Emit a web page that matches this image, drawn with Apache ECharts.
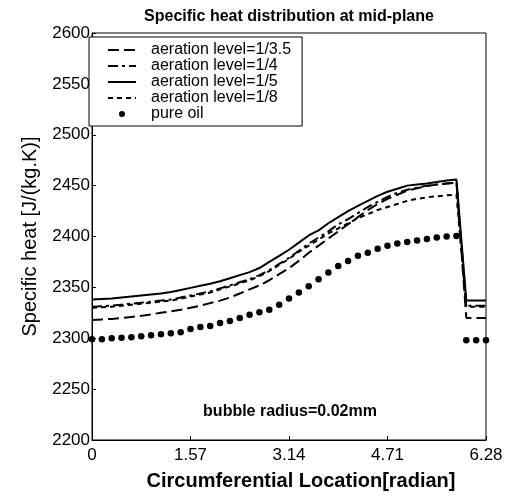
<!DOCTYPE html>
<html>
<head>
<meta charset="utf-8">
<script src="https://cdn.jsdelivr.net/npm/echarts@6/dist/echarts.min.js"></script>
<style>html,body{margin:0;padding:0;background:#fff}#c{width:510px;height:496px}</style>
</head>
<body>
<div id="c"></div>
<script>
// circumferential location [radian]
const xs = [0, 0.157, 0.314, 0.471, 0.628, 0.785, 0.942, 1.100, 1.257, 1.414,
  1.571, 1.728, 1.885, 2.042, 2.199, 2.356, 2.513, 2.670, 2.827, 2.985,
  3.142, 3.299, 3.456, 3.613, 3.770, 3.927, 4.084, 4.241, 4.398, 4.555,
  4.712, 4.869, 5.027, 5.184, 5.341, 5.498, 5.655, 5.812, 5.969, 6.126, 6.283];

const aer35 = [2318, 2318.5, 2319, 2320, 2321, 2322, 2323.5, 2325, 2326.5, 2328,
  2330, 2332, 2334.5, 2337, 2340, 2344, 2348, 2352, 2357, 2363,
  2369, 2376, 2384, 2391, 2398, 2405, 2412, 2419, 2426, 2432,
  2437, 2441, 2445, 2447.5, 2449.5, 2451, 2452, 2453, 2320, 2320, 2320];

const aer4 = [2331, 2331.5, 2332, 2333, 2334, 2335, 2336, 2337, 2338, 2340,
  2342, 2344, 2346, 2349, 2352, 2355, 2358, 2362, 2367, 2373,
  2379, 2386, 2393, 2399, 2405, 2412, 2417, 2423, 2429, 2434,
  2439, 2443, 2446, 2448, 2450, 2451, 2452, 2453, 2332, 2332, 2332];

const aer5 = [2338, 2338.5, 2339, 2340, 2341, 2342, 2343, 2344, 2345.5, 2347.5,
  2349.5, 2351.5, 2353.5, 2356, 2359, 2362, 2365, 2369, 2375, 2381,
  2387, 2394, 2401, 2406, 2413, 2419, 2425, 2430, 2435, 2440,
  2444, 2447, 2450, 2451, 2452, 2453.5, 2455, 2456, 2337, 2337, 2337];

const aer8 = [2330, 2330.5, 2331, 2332, 2333, 2334, 2335, 2336, 2337, 2339,
  2341, 2343, 2345, 2348, 2351, 2354, 2357, 2361, 2366, 2372,
  2378, 2385, 2391, 2397, 2403, 2408, 2413, 2418, 2422, 2426,
  2429, 2432, 2435, 2437, 2438.5, 2439.5, 2440.5, 2441, 2331, 2331, 2331];

const pureOil = [2299, 2299, 2300, 2300.5, 2301, 2302, 2303, 2304, 2305, 2306,
  2309, 2311, 2312, 2315, 2317, 2320, 2323, 2325.5, 2328, 2333,
  2339, 2345, 2351, 2358, 2364.5, 2371, 2376, 2381, 2384, 2388,
  2391, 2393, 2394.5, 2396, 2397.5, 2399, 2400, 2400.5, 2298, 2298, 2298];

const xTicks = [0, 1.57, 3.14, 4.71, 6.28];
const seriesNames = ['aeration level=1/3.5', 'aeration level=1/4', 'aeration level=1/5', 'aeration level=1/8', 'pure oil'];

const pair = (ys) => xs.map((x, i) => [x, ys[i]]);
const FONT = '"Liberation Sans", Arial, sans-serif';

const chart = echarts.init(document.getElementById('c'), null, {renderer: 'canvas'});
chart.setOption({
  animation: false,
  backgroundColor: '#fff',
  textStyle: {fontFamily: FONT, color: '#000'},
  title: {
    text: 'Specific heat distribution at mid-plane',
    left: 289, top: 9, textAlign: 'center', padding: 0,
    textStyle: {fontFamily: FONT, fontSize: 16, fontWeight: 'bold', color: '#000'}
  },
  grid: {left: 92, right: 24, top: 33, bottom: 54, show: true, borderColor: '#000', borderWidth: 1, backgroundColor: 'transparent'},
  legend: {
    orient: 'vertical', left: 89, top: 37,
    padding: [5, 11, 4, 18],
    itemWidth: 28, itemHeight: 6, itemGap: 0,
    borderColor: '#000', borderWidth: 1, backgroundColor: '#fff',
    textStyle: {fontFamily: FONT, fontSize: 16, color: '#000', lineHeight: 15.5, padding: [0, 0, 0, 10]},
    data: seriesNames.slice(0, 4).map(n => ({name: n, itemStyle: {opacity: 0}}))
      .concat([{name: seriesNames[4], icon: 'circle', itemStyle: {color: '#000', opacity: 1}}])
  },
  xAxis: {
    type: 'value', min: 0, max: 6.2832, interval: 1.5708,
    axisLine: {lineStyle: {color: '#000', width: 1}},
    axisTick: {inside: true, length: 4, lineStyle: {color: '#000'}},
    splitLine: {show: false},
    axisLabel: {fontFamily: FONT, fontSize: 17, color: '#000', margin: 7,
      formatter: v => { const i = Math.round(v / 1.5708); const t = xTicks[i]; return t === 0 ? '0' : t.toFixed(2); }},
    name: 'Circumferential Location[radian]', nameLocation: 'middle', nameGap: 31,
    nameTextStyle: {fontFamily: FONT, fontSize: 20, fontWeight: 'bold', color: '#000', padding: [0, 0, 0, 24]}
  },
  yAxis: {
    type: 'value', min: 2200, max: 2600, interval: 50,
    axisLine: {show: true, lineStyle: {color: '#000', width: 1}},
    axisTick: {show: true, inside: true, length: 4, lineStyle: {color: '#000'}},
    splitLine: {show: false},
    axisLabel: {fontFamily: FONT, fontSize: 17, color: '#000', margin: 2, formatter: v => String(v)},
    name: 'Specific heat [J/(kg.K)]', nameLocation: 'middle', nameGap: 52,
    nameTextStyle: {fontFamily: FONT, fontSize: 20, color: '#000'}
  },
  graphic: [{
    type: 'text', x: 290, y: 412,
    style: {text: 'bubble radius=0.02mm', font: 'bold 16px ' + FONT, fill: '#000', align: 'center', verticalAlign: 'middle'}
  }],
  series: [
    {name: seriesNames[0], type: 'line', data: pair(aer35), symbol: 'none', showSymbol: false,
      lineStyle: {color: '#000', width: 2, type: [11, 5]}, itemStyle: {color: '#000'}},
    {name: seriesNames[1], type: 'line', data: pair(aer4), symbol: 'none', showSymbol: false,
      lineStyle: {color: '#000', width: 2, type: [10, 4, 3, 4]}, itemStyle: {color: '#000'}},
    {name: seriesNames[2], type: 'line', data: pair(aer5), symbol: 'none', showSymbol: false,
      lineStyle: {color: '#000', width: 2, type: 'solid'}, itemStyle: {color: '#000'}},
    {name: seriesNames[3], type: 'line', data: pair(aer8), symbol: 'none', showSymbol: false,
      lineStyle: {color: '#000', width: 2, type: [5, 4]}, itemStyle: {color: '#000'}},
    {name: seriesNames[4], type: 'scatter', data: pair(pureOil), symbol: 'circle', symbolSize: 6.5,
      itemStyle: {color: '#000', opacity: 1}}
  ]
});
</script>
</body>
</html>
